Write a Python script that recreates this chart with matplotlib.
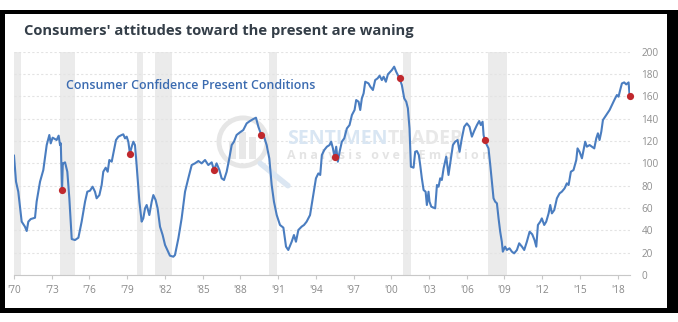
import matplotlib
matplotlib.use("Agg")
import matplotlib.pyplot as plt
from matplotlib.patches import Rectangle, Ellipse

plt.rcParams['font.family'] = ['Open Sans', 'DejaVu Sans']

# Consumer Confidence Present Conditions index (decimal year, value)
years = [1970.00, 1970.16, 1970.34, 1970.61, 1970.87, 1971.01, 1971.14, 1971.33, 1971.67, 1971.80,
         1972.07, 1972.33, 1972.60, 1972.81, 1972.92, 1973.07, 1973.26, 1973.39, 1973.55, 1973.66,
         1973.72, 1973.82, 1973.88, 1973.92, 1974.06, 1974.24, 1974.40, 1974.59, 1974.85, 1975.12,
         1975.38, 1975.65, 1975.83, 1976.04, 1976.25, 1976.44, 1976.57, 1976.79, 1976.97, 1977.10,
         1977.29, 1977.45, 1977.58, 1977.77, 1977.90, 1978.11, 1978.30, 1978.56, 1978.69, 1978.83,
         1978.96, 1979.09, 1979.22, 1979.36, 1979.49, 1979.62, 1979.75, 1979.97, 1980.15, 1980.28,
         1980.42, 1980.55, 1980.76, 1980.95, 1981.08, 1981.26, 1981.42, 1981.61, 1981.82, 1982.01,
         1982.19, 1982.40, 1982.67, 1982.80, 1983.07, 1983.33, 1983.60, 1983.86, 1984.13, 1984.39,
         1984.66, 1984.92, 1985.19, 1985.45, 1985.72, 1985.90, 1986.11, 1986.33, 1986.51, 1986.70,
         1986.91, 1987.12, 1987.31, 1987.49, 1987.70, 1987.97, 1988.23, 1988.50, 1988.76, 1989.03,
         1989.24, 1989.43, 1989.67, 1989.88, 1990.09, 1990.30, 1990.49, 1990.67, 1990.89, 1991.15,
         1991.42, 1991.63, 1991.81, 1992.08, 1992.26, 1992.42, 1992.61, 1992.87, 1993.06, 1993.27,
         1993.54, 1993.80, 1994.01, 1994.20, 1994.35, 1994.48, 1994.67, 1994.88, 1995.09, 1995.22,
         1995.36, 1995.49, 1995.62, 1995.75, 1995.89, 1996.07, 1996.26, 1996.47, 1996.68, 1996.87,
         1997.08, 1997.21, 1997.40, 1997.53, 1997.66, 1997.80, 1997.93, 1998.19, 1998.33, 1998.54,
         1998.72, 1998.91, 1999.07, 1999.25, 1999.39, 1999.57, 1999.73, 1999.92, 2000.05, 2000.23,
         2000.39, 2000.52, 2000.66, 2000.84, 2001.03, 2001.19, 2001.32, 2001.45, 2001.56, 2001.77,
         2001.90, 2002.04, 2002.19, 2002.30, 2002.43, 2002.57, 2002.73, 2002.83, 2002.96, 2003.04,
         2003.18, 2003.36, 2003.49, 2003.63, 2003.76, 2003.89, 2004.02, 2004.16, 2004.37, 2004.55,
         2004.74, 2004.90, 2005.08, 2005.27, 2005.43, 2005.61, 2005.80, 2006.01, 2006.22, 2006.41,
         2006.59, 2006.81, 2006.99, 2007.12, 2007.26, 2007.34, 2007.42, 2007.60, 2007.73, 2007.87,
         2008.00, 2008.13, 2008.26, 2008.40, 2008.53, 2008.66, 2008.79, 2008.87, 2009.05, 2009.19,
         2009.40, 2009.59, 2009.77, 2009.99, 2010.17, 2010.39, 2010.57, 2010.78, 2011.00, 2011.21,
         2011.39, 2011.53, 2011.66, 2011.85, 2011.97, 2012.16, 2012.32, 2012.51, 2012.64, 2012.77,
         2012.96, 2013.17, 2013.38, 2013.56, 2013.78, 2013.96, 2014.10, 2014.28, 2014.49, 2014.71,
         2014.81, 2014.97, 2015.16, 2015.29, 2015.42, 2015.55, 2015.77, 2015.95, 2016.14, 2016.30,
         2016.43, 2016.56, 2016.70, 2016.83, 2017.01, 2017.20, 2017.36, 2017.54, 2017.67, 2017.80,
         2017.94, 2018.07, 2018.20, 2018.34, 2018.52, 2018.68, 2018.87, 2018.95]
values = [106.9, 83.6, 74.6, 47.8, 43.3, 39.4, 47.8, 50.1, 51.3, 65.7,
          83.6, 94.0, 116.4, 125.4, 117.9, 123.0, 121.8, 120.9, 124.8, 116.4,
          118.0, 76.0, 100.0, 100.0, 100.9, 92.5, 68.7, 32.2, 31.3, 33.4,
          47.8, 65.7, 74.6, 75.5, 79.1, 74.6, 68.7, 71.6, 80.6, 92.5,
          96.1, 92.5, 103.0, 101.5, 109.0, 120.9, 123.9, 125.4, 126.0, 122.4,
          123.9, 119.4, 108.7, 114.9, 119.4, 116.4, 98.5, 65.7, 47.8, 50.7,
          59.7, 62.7, 53.7, 65.7, 71.6, 67.2, 59.7, 43.3, 35.8, 26.9,
          22.4, 17.3, 16.4, 17.9, 32.8, 50.7, 74.6, 86.6, 98.5, 100.0,
          102.1, 100.0, 103.0, 98.5, 100.9, 94.0, 100.0, 94.0, 86.6, 85.1,
          92.5, 104.5, 116.4, 119.4, 125.4, 127.8, 129.8, 135.8, 137.9, 139.7,
          140.9, 132.8, 125.4, 123.9, 116.4, 104.5, 80.6, 65.7, 53.7, 44.8,
          42.4, 25.4, 22.4, 29.8, 35.8, 29.8, 40.3, 43.3, 44.8, 47.8,
          53.7, 71.6, 86.6, 91.0, 89.6, 107.5, 111.9, 114.9, 116.4, 119.4,
          113.4, 105.4, 114.9, 101.5, 110.4, 119.4, 122.4, 131.3, 134.3, 143.3,
          147.8, 156.7, 155.2, 147.8, 158.2, 162.7, 173.1, 171.6, 168.7, 165.7,
          174.6, 176.1, 178.5, 174.6, 177.6, 173.1, 179.7, 182.1, 183.6, 186.6,
          182.1, 179.1, 176.1, 170.1, 158.2, 155.2, 149.3, 131.3, 97.0, 96.1,
          110.4, 111.0, 107.5, 98.5, 86.6, 76.1, 74.6, 62.7, 74.6, 65.7,
          61.2, 60.3, 59.7, 80.6, 79.1, 86.6, 85.1, 95.5, 106.0, 89.6,
          104.5, 116.4, 119.4, 120.9, 110.4, 122.4, 132.8, 135.8, 132.8, 123.9,
          129.0, 134.3, 137.9, 134.3, 137.3, 125.4, 120.9, 116.4, 113.4, 98.5,
          83.6, 68.7, 65.7, 64.2, 50.7, 38.8, 29.8, 20.9, 25.4, 22.4,
          23.9, 20.9, 19.4, 22.4, 28.4, 25.4, 22.4, 29.8, 38.8, 36.4,
          31.3, 25.4, 44.8, 47.8, 50.7, 44.8, 47.8, 55.2, 62.7, 55.2,
          58.2, 68.7, 73.1, 74.6, 77.6, 82.1, 80.6, 92.5, 94.0, 103.0,
          113.4, 110.4, 104.5, 111.9, 119.4, 114.9, 116.4, 114.9, 113.4, 122.4,
          126.9, 120.9, 128.4, 138.8, 141.8, 144.8, 147.8, 152.2, 155.2, 158.2,
          161.2, 159.7, 165.7, 171.6, 172.5, 170.7, 172.5, 160.6]

# highlighted readings
dot_years = [1973.82, 1979.22, 1985.90, 1989.67, 1995.49, 2000.66, 2007.42, 2018.95]
dot_values = [76.0, 108.7, 94.0, 125.4, 105.4, 176.1, 120.9, 160.6]

# recessions
rec_start = [1970.00, 1973.66, 1979.77, 1981.24, 1990.29, 2000.91, 2007.67]
rec_end = [1970.53, 1974.85, 1980.26, 1982.59, 1990.91, 2001.60, 2009.18]

xticks = list(range(1970, 2019, 3))
xtick_labels = ["'%02d" % (y % 100) for y in xticks]
yticks = list(range(0, 201, 20))

fig = plt.figure(figsize=(6.78, 3.22), dpi=100)
ax = fig.add_axes([14 / 678, 47 / 322, 615.6 / 678, 223.3 / 322])

for s, e in zip(rec_start, rec_end):
    ax.axvspan(s, e, color='#ebebeb', lw=0, zorder=0)

ax.plot(years, values, color='#4a7dc0', lw=1.5, zorder=3, solid_joinstyle='round')
ax.plot(dot_years, dot_values, 'o', color='#c0282d', ms=5.2, mec='none', zorder=4, clip_on=False)

ax.set_xlim(1970.0, 2018.95)
ax.set_ylim(0, 200)
ax.set_xticks(xticks)
ax.set_xticklabels(xtick_labels)
ax.set_yticks(yticks)
ax.yaxis.tick_right()
ax.grid(axis='y', color='#e3e3e3', lw=0.8, ls=(0, (2, 2)), zorder=1)
ax.set_axisbelow(True)
for side in ['top', 'left', 'right']:
    ax.spines[side].set_visible(False)
ax.spines['bottom'].set_color('#c8c8c8')
ax.tick_params(axis='x', length=3, color='#c8c8c8', labelsize=7.2, labelcolor='#888888', pad=4)
ax.tick_params(axis='y', length=0, labelsize=7.2, labelcolor='#8f8f8f', pad=8.6)
for lab in ax.get_yticklabels():
    lab.set_horizontalalignment('left')

# watermark
ax.add_patch(Ellipse((0.372, 0.596), 0.078, 0.215, transform=ax.transAxes, fill=False,
                     ec='#e6e6e6', lw=3.5, zorder=2))
ax.plot([0.40, 0.445], [0.50, 0.40], transform=ax.transAxes, color='#dbe6f2', lw=4,
        solid_capstyle='round', zorder=2)
for bx, bh in [(0.350, 0.08), (0.366, 0.12), (0.382, 0.10)]:
    ax.add_patch(Rectangle((bx, 0.52), 0.011, bh, transform=ax.transAxes,
                           color='#e8e8e8', lw=0, zorder=2))
wm1 = ax.text(0.444, 0.611, 'SENTIMEN', transform=ax.transAxes, fontsize=14, fontweight='bold',
              color='#d9e6f3', va='center', ha='left', zorder=2)
fig.canvas.draw()
bb = wm1.get_window_extent().transformed(ax.transAxes.inverted())
ax.text(bb.x1, 0.611, 'TRADER', transform=ax.transAxes, fontsize=14, fontweight='bold',
        color='#e8e8e8', va='center', ha='left', zorder=2)
ax.text(0.444, 0.533, 'A n a l y s i s   o v e r   E m o t i o n', transform=ax.transAxes,
        fontsize=9, fontweight='bold', color='#e4e4e4', va='center', ha='left', zorder=2)

fig.text(24 / 678, (322 - 34.5) / 322, "Consumers' attitudes toward the present are waning",
         fontsize=10.6, fontweight='bold', color='#343e48', va='baseline', ha='left')
fig.text(66 / 678, (322 - 89.3) / 322, 'Consumer Confidence Present Conditions',
         fontsize=8.9, fontweight='semibold', color='#3b6bb0', va='baseline', ha='left')

# black frame
frame = dict(transform=fig.transFigure, color='black', lw=0, zorder=10)
fig.patches.append(Rectangle((0, 308 / 322), 1, 4 / 322, **frame))
fig.patches.append(Rectangle((0, 9 / 322), 5 / 678, 303 / 322, **frame))
fig.patches.append(Rectangle((667 / 678, 9 / 322), 11 / 678, 303 / 322, **frame))
fig.patches.append(Rectangle((0, 9 / 322), 1, 5 / 322, **frame))

fig.savefig('out.png', dpi=100, facecolor='white')
